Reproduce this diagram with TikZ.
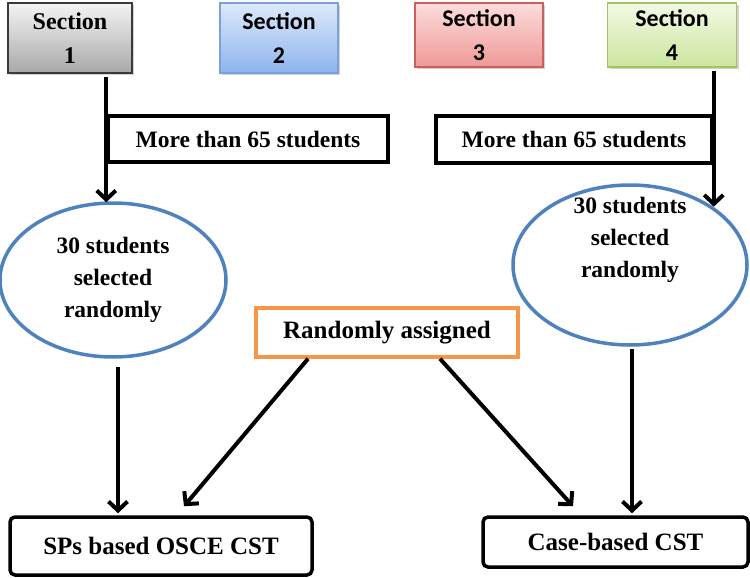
\documentclass[tikz,border=0pt]{standalone}
\usepackage{fontspec}
\newfontfamily\tnrfont{Liberation Serif}
\newfontfamily\carfont{Carlito}
\usetikzlibrary{arrows.meta,shapes.geometric,shadows}
\definecolor{g1t}{HTML}{F4F4F4}\definecolor{g1b}{HTML}{A8A8A8}\definecolor{g1d}{HTML}{3A3A3A}
\definecolor{b2t}{HTML}{DDE9FB}\definecolor{b2b}{HTML}{8DB4EC}\definecolor{b2d}{HTML}{7AA2DA}
\definecolor{r3t}{HTML}{FCDDDC}\definecolor{r3b}{HTML}{EE9997}\definecolor{r3d}{HTML}{C9605D}
\definecolor{v4t}{HTML}{F3F9E4}\definecolor{v4b}{HTML}{CCE59E}\definecolor{v4d}{HTML}{A3C265}
\definecolor{ellc}{HTML}{4F81BD}
\definecolor{orc}{HTML}{F79646}
\tikzset{
  secbox/.style={rectangle, inner sep=0pt, align=center,
     line width=1.3pt, drop shadow={shadow xshift=2pt, shadow yshift=-2pt, fill=black!35}},
  infobox/.style={rectangle, draw=black, line width=3.5pt, inner sep=0pt, fill=white,
     font=\tnrfont\fontsize{23.5}{28}\selectfont\bfseries},
  resbox/.style={rectangle, draw=black, line width=3.5pt, inner sep=0pt, rounded corners=5pt,
     font=\tnrfont\fontsize{25}{30}\selectfont\bfseries},
  ell/.style={ellipse, draw=ellc, line width=3.5pt, inner sep=0pt},
  elltxt/.style={align=center, font=\tnrfont\fontsize{23.5}{32}\selectfont\bfseries},
  arr/.style={line width=4pt, -{Straight Barb[length=9pt,width=19pt,line width=4pt]}},
}
\begin{document}
\begin{tikzpicture}[x=1pt,y=1pt]
\useasboundingbox (0,0) rectangle (750,-578);
% section boxes
\node[secbox, draw=g1d, top color=g1t, bottom color=g1b, minimum width=124, minimum height=70, font=\tnrfont\fontsize{24}{34}\selectfont\bfseries] (s1) at (70,-38) {Section\\1};
\node[secbox, draw=b2d, top color=b2t, bottom color=b2b, minimum width=118, minimum height=70, font=\carfont\fontsize{24}{34}\selectfont\bfseries] (s2) at (279,-38) {Section\\2};
\node[secbox, draw=r3d, top color=r3t, bottom color=r3b, minimum width=128, minimum height=64, font=\carfont\fontsize{24}{34}\selectfont\bfseries] (s3) at (479,-35) {Section\\3};
\node[secbox, draw=v4d, top color=v4t, bottom color=v4b, minimum width=129, minimum height=64, font=\carfont\fontsize{24}{34}\selectfont\bfseries] (s4) at (672,-35) {Section\\4};
% more than boxes
\node[infobox, minimum width=280, minimum height=46] (m1) at (248,-139) {More than 65 students};
\node[infobox, minimum width=276, minimum height=47] (m2) at (574,-139.5) {More than 65 students};
% ellipses
\node[ell, minimum width=226, minimum height=154, elltxt] (e1) at (113,-280) {30 students\\selected\\randomly};
\node[ell, minimum width=234, minimum height=160] (e2) at (630,-265) {};
\node[elltxt] (e2t) at ([yshift=25]e2.center) {30 students\\selected\\randomly};
% randomly assigned
\node[rectangle, draw=orc, line width=3.5pt, inner sep=0pt, minimum width=262, minimum height=49,
      font=\tnrfont\fontsize{25}{30}\selectfont\bfseries] (ra) at (387,-332.5) {Randomly assigned};
% results
\node[resbox, minimum width=302, minimum height=58] (sp) at (161,-546) {SPs based OSCE CST};
\node[resbox, minimum width=265, minimum height=50] (cb) at (615.5,-542) {Case-based CST};
% connectors
\draw[arr] ([yshift=-3]m1.west |- s1.south) -- ([yshift=-1]m1.west |- e1.north);
\draw[arr] ([yshift=-3]m2.east |- s4.south) -- (m2.east |- e2.35);
\draw[arr] ([shift={(5,-8)}]e1.south) -- ([shift={(5,2)}]e1.south |- sp.north);
\draw[arr] ([shift={(2,-2)}]e2.south) -- ([shift={(2,2)}]e2.south |- cb.north);
\draw[arr] ([xshift=-79]ra.south) -- ([shift={(23,9)}]sp.north);
\draw[arr] ([xshift=53]ra.south) -- ([shift={(-42.5,9)}]cb.north);
\end{tikzpicture}
\end{document}
